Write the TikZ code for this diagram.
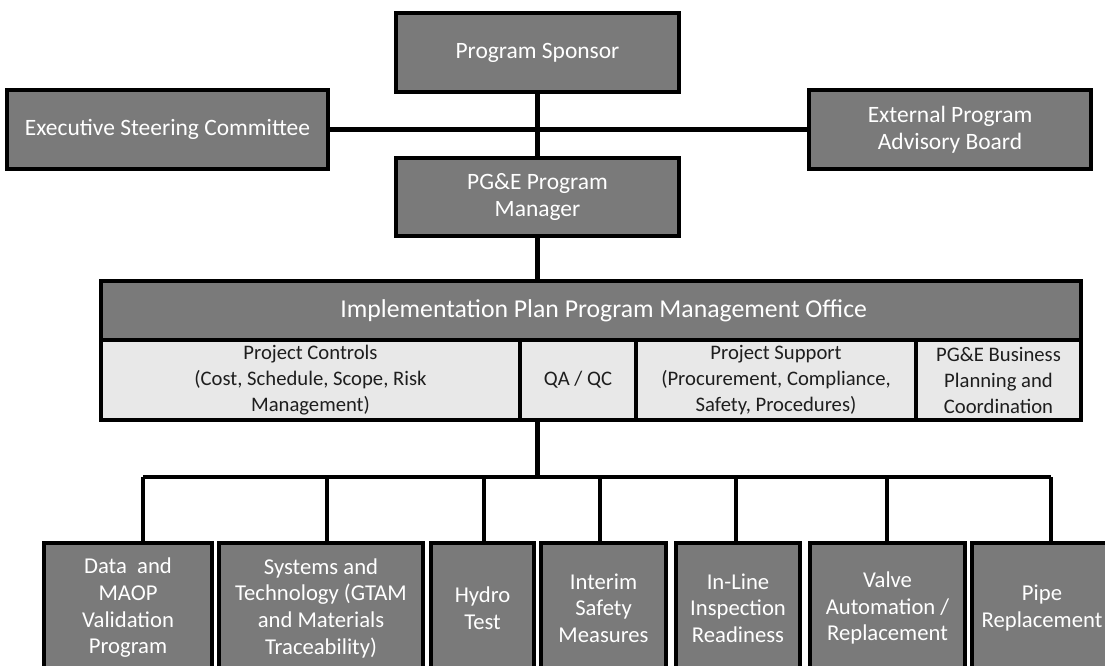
\documentclass[tikz,border=0pt]{standalone}
\usepackage{fontspec}
\setmainfont{Carlito}
\usetikzlibrary{calc}
\definecolor{darkfill}{RGB}{122,122,122}
\definecolor{lightfill}{RGB}{232,232,232}
\definecolor{lighttext}{RGB}{30,30,30}
\begin{document}
\begin{tikzpicture}[x=0.75pt,y=-0.75pt,
  dark/.style={draw=black, line width=2.4pt, fill=darkfill, text=white, align=center,
    font=\fontsize{17.6}{20}\selectfont, inner sep=0pt},
  light/.style={draw=black, line width=2.4pt, fill=lightfill, text=lighttext, align=center,
    font=\fontsize{15.5}{19.5}\selectfont, inner sep=0pt, minimum height=60pt},
  bottombox/.style={dark, minimum height=97.5pt, font=\fontsize{17}{20}\selectfont},
  conn/.style={line width=3.4pt, black}]
\useasboundingbox (0,0) rectangle (1105,666);
\clip (0,0) rectangle (1105,666);

% top level
\node[dark, minimum width=212.25pt, minimum height=59.25pt] (ps) at (537.5,52.5) {Program Sponsor};
\node[dark, minimum width=240.75pt, minimum height=59.25pt] (exec) at (167.5,129.5) {Executive Steering Committee};
\node[dark, minimum width=211.5pt, minimum height=59.25pt] (ext) at (950,129.5) {External Program\\Advisory Board};
\node[dark, minimum width=212.25pt, minimum height=58.5pt] (pm) at (537.5,197) {PG\&E Program\\Manager};

% PMO
\node[dark, minimum width=735pt, minimum height=44.25pt, font=\fontsize{19.3}{22}\selectfont] (hdr) at (591,310.5) {\hspace*{19pt}Implementation Plan Program Management Office};
\node[light, minimum width=314.25pt] (pc) at (310.5,380) {Project Controls\\(Cost, Schedule, Scope, Risk\\Management)};
\node[light, minimum width=87pt] (qa) at (578,380) {QA / QC};
\node[light, minimum width=210pt] (psup) at (776,380) {Project Support\\(Procurement, Compliance,\\Safety, Procedures)};
\node[light, minimum width=123.75pt] (biz) at (998.5,380) {PG\&E Business\\Planning and\\Coordination};

% bottom row
\node[bottombox, minimum width=126pt] (d1) at (128,608) {Data\ \ and\\MAOP\\Validation\\Program};
\node[bottombox, minimum width=153pt] (d2) at (321,608) {Systems and\\Technology (GTAM\\and Materials\\Traceability)};
\node[bottombox, minimum width=77.25pt] (d3) at (482.5,608) {Hydro\\Test};
\node[bottombox, minimum width=93.75pt] (d4) at (603.5,608) {Interim\\Safety\\Measures};
\node[bottombox, minimum width=93pt] (d5) at (738,608) {In-Line\\Inspection\\Readiness};
\node[bottombox, minimum width=116.25pt] (d6) at (887.5,608) {Valve\\Automation /\\Replacement};
\node[bottombox, minimum width=105pt] (d7) at (1042,608) {Pipe\\Replacement};

% connectors
\draw[conn] (ps.south) -- (pm.north);
\draw[conn] (exec.east) -- (ext.west);
\draw[conn] (pm.south) -- (pm.south |- hdr.north);

\coordinate (t1) at (143,477);
\coordinate (t2) at (327,477);
\coordinate (t3) at (484,477);
\coordinate (t4) at (600,477);
\coordinate (t5) at (736,477);
\coordinate (t6) at (887,477);
\coordinate (t7) at (1051,477);
\draw[conn] (pm.south |- qa.south) -- (pm.south |- t1);
\draw[conn] (t1) -- (t7);
\foreach \i in {1,...,7} {
  \draw[conn] (t\i) -- (t\i |- d\i.north);
}
\end{tikzpicture}
\end{document}
